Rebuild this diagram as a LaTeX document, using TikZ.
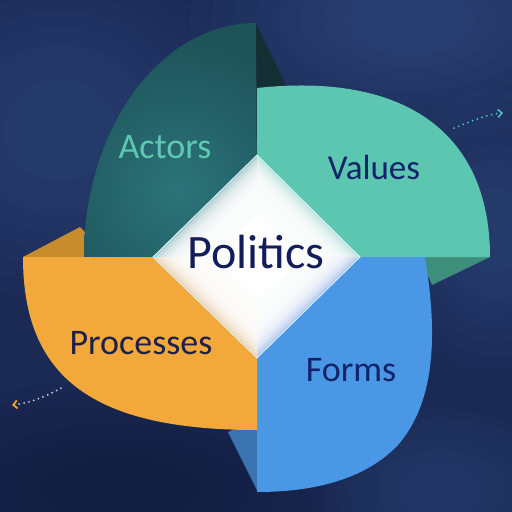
\documentclass[tikz,border=0pt]{standalone}
\usepackage{fontspec}
\setmainfont{Carlito}
\usetikzlibrary{arrows.meta}
\definecolor{bgbase}{HTML}{1A2A55}
\definecolor{bglight}{HTML}{4462A0}
\definecolor{bgdark}{HTML}{0C1632}
\definecolor{actorsin}{HTML}{2B7479}
\definecolor{actorsout}{HTML}{1E5359}
\definecolor{actorstxt}{HTML}{5EC9B3}
\definecolor{actorsflap}{HTML}{132F33}
\definecolor{valuesfill}{HTML}{5CC6B1}
\definecolor{valuesflap}{HTML}{3E8E7C}
\definecolor{formsfill}{HTML}{4A97E6}
\definecolor{formsflap}{HTML}{3A74B0}
\definecolor{procfill}{HTML}{F3A83B}
\definecolor{procflap}{HTML}{C98C2D}
\definecolor{navytxt}{HTML}{13236A}
\definecolor{proctxt}{HTML}{1D2047}
\definecolor{polytxt}{HTML}{121D5C}
\definecolor{tintTL}{HTML}{B0CCCD}
\definecolor{tintTR}{HTML}{C0E4DC}
\definecolor{tintBR}{HTML}{B4C9EE}
\definecolor{tintBL}{HTML}{ECD6B8}
\definecolor{arrowcyan}{HTML}{4FC4C8}
\definecolor{arroworange}{HTML}{F0A030}
\definecolor{dotlight}{HTML}{C8D2E6}
\tikzset{
  label36/.style={font=\fontsize{36}{36}\selectfont, anchor=base, inner sep=0pt},
  dotline/.style={line width=2pt, line cap=round, dash pattern=on 0pt off 5pt},
}
\begin{document}
\begin{tikzpicture}[x=1pt,y=-1pt]
\useasboundingbox (0,0) rectangle (512,512);
% background
\fill[bgbase] (0,0) rectangle (512,512);
\foreach \cx/\cy/\rx/\ry/\col/\op in {60/130/190/170/bglight/0.05, 410/20/220/120/bglight/0.06,
   495/230/110/140/bglight/0.05, 120/490/260/110/bgdark/0.07, 440/490/130/80/bglight/0.04}{
  \foreach \r in {1,0.9,0.8,0.7,0.6,0.5,0.4,0.3}{
    \fill[\col, opacity=\op] (\cx,\cy) ellipse ({\rx*\r} and {\ry*\r});
  }
}
% flaps
\fill[actorsflap] (256,23) -- (286,86) -- (256,94) -- cycle;
\fill[valuesflap] (420,257) -- (490,257) -- (432,285) -- cycle;
\fill[formsflap] (228,432) -- (257,420) -- (257,490) -- cycle;
\fill[procflap] (23,257) -- (80,227) -- (110,257) -- cycle;
% sectors
\begin{scope}
  \clip (256,23) .. controls (161,23) and (84,128) .. (84,257) -- (257,257) -- cycle;
  \fill[actorsout] (80,20) rectangle (260,260);
  \shade[inner color=actorsin, outer color=actorsout] (178,190) circle (150);
\end{scope}
\fill[valuesfill]
  (257,88) .. controls (405,72) and (490,133) .. (490,257) -- (257,257) -- cycle;
\fill[formsfill]
  (257,257) -- (425,257) .. controls (437,330) and (437,400) .. (398,445)
  .. controls (360,485) and (300,492) .. (257,492) -- cycle;
\fill[procfill]
  (23,257) .. controls (23,377) and (92,430) .. (257,430) -- (257,257) -- cycle;
% central diamond
\fill[tintTL] (257,257) -- (257,155) -- (153,257) -- cycle;
\fill[tintTR] (257,257) -- (257,155) -- (360,257) -- cycle;
\fill[tintBR] (257,257) -- (360,257) -- (257,358) -- cycle;
\fill[tintBL] (257,257) -- (257,358) -- (153,257) -- cycle;
\foreach \s in {0.97,0.93,0.89,0.85,0.81,0.77,0.73,0.69,0.64}{
  \fill[white, opacity=0.3] ({257},{257-102*\s}) -- ({257+103*\s},{257})
     -- ({257},{257+101*\s}) -- ({257-104*\s},{257}) -- cycle;
}
\fill[white] (257,215) -- (302,257) -- (257,300) -- (212,257) -- cycle;
\draw[white!85!cyan, line width=0.8pt] (257,155) -- (360,257) -- (257,358) -- (153,257) -- cycle;
% labels
\node[label36, text=actorstxt] (actors) at (165,158) {Actors};
\node[label36, text=navytxt, font=\fontsize{35}{35}\selectfont] (values) at (374,179) {Values};
\node[label36, text=navytxt] (forms) at (351,381) {Forms};
\node[label36, text=proctxt] (processes) at (141,354) {Processes};
\node[anchor=base, inner sep=0pt, text=polytxt, font=\fontsize{48}{48}\selectfont] (politics) at (256,268) {Politics};
% dotted arrows
\coordinate (arAstart) at (454,128);
\coordinate (arAend) at (503,113);
\draw[dotline, arrowcyan, -{Straight Barb[length=4pt, width=8pt, line width=1.5pt]}]
  (arAstart) .. controls (472,121) and (488,114) .. (arAend);
\coordinate (arBstart) at (61,388);
\coordinate (arBend) at (12,405);
\draw[dotline, dotlight, -{Straight Barb[length=4pt, width=8pt, line width=1.8pt, color=arroworange]}]
  (arBstart) .. controls (45,397) and (30,403) .. (arBend);
\end{tikzpicture}
\end{document}
